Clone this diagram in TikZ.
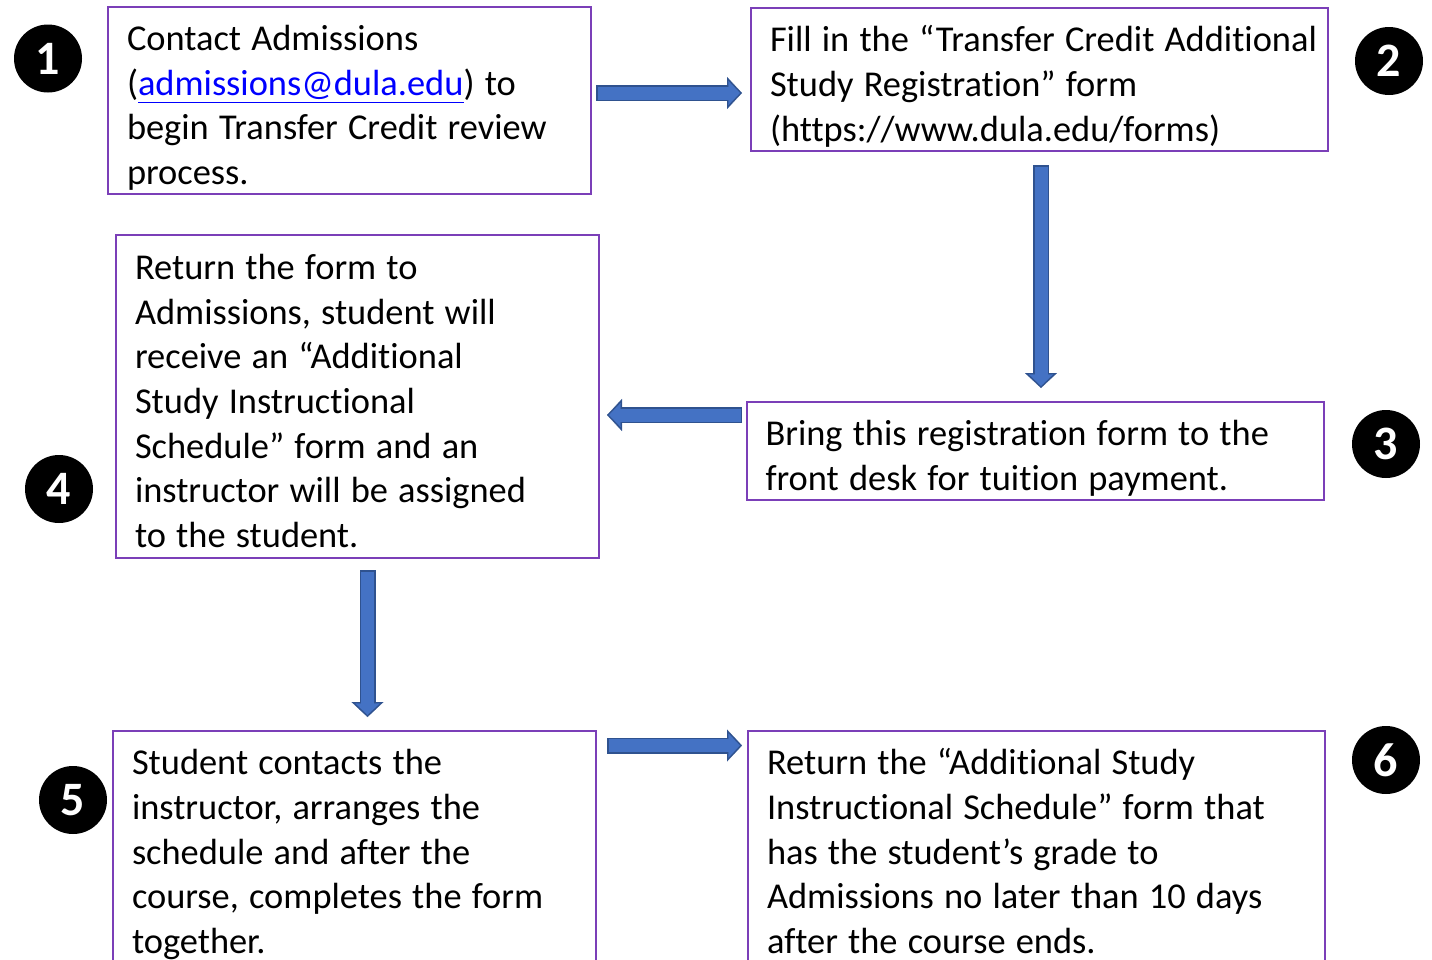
\documentclass[tikz,border=0pt]{standalone}
\usepackage{fontspec}
\setmainfont{Carlito}[Ligatures=NoCommon]
\usetikzlibrary{arrows.meta}
\definecolor{framepurple}{HTML}{7B3FB8}
\definecolor{arrowblue}{HTML}{4472C4}
\definecolor{arrowdark}{HTML}{2F528F}
\definecolor{linkblue}{HTML}{0000FF}

\begin{document}
\begin{tikzpicture}[x=0.5pt, y=-0.5pt,
 stage/.style={draw=framepurple, line width=1pt, align=left, inner xsep=9.5pt, inner ysep=0pt,
   font=\fontsize{18.2pt}{22.3pt}\selectfont,
   execute at begin node={\spaceskip=0.28em\relax\rule{0pt}{22pt}},
   execute at end node={\rule[-5pt]{0pt}{5pt}}},
 leftstage/.style={stage, text width=222.5pt},
 rightstage/.style={stage, text width=269.5pt},
 badge/.style={shape=circle, fill=black, minimum size=34pt, inner sep=0pt, text=white,
   font=\fontsize{24pt}{24pt}\selectfont\bfseries},
 flowedge/.style={draw=arrowdark, line width=8pt, -{Triangle[width=16pt, length=7.5pt, line width=0.1pt]}},
 flowbody/.style={draw=arrowblue, line width=6.5pt, shorten <=0.75pt, shorten >=1.06pt,
   -{Triangle[width=12pt, length=5.7pt, line width=0.1pt]}},
]
\useasboundingbox (0,0) rectangle (1432,960);
\clip (0,0) rectangle (1432,960);

%steps
\node[leftstage, minimum height=93.5pt] (s1) at (349.5,100.5)
 {Contact Admissions\\(\textcolor{linkblue}{\underline{admissions@dula.edu}}) to\\begin Transfer Credit review\\process.};
\node[rightstage, minimum height=71.5pt] (s2) at (1039.5,79.5)
 {\mbox{Fill in the “Transfer Credit Additional}\\Study Registration” form\\(https://www.dula.edu/forms)};
\node[rightstage, minimum height=49pt] (s3) at (1035,451)
 {Bring this registration form to the\\front desk for tuition payment.};
\node[leftstage, minimum height=161.5pt] (s4) at (357.5,396.5)
 {Return the form to\\Admissions, student will\\receive an “Additional\\Study Instructional\\Schedule” form and an\\instructor will be assigned\\to the student.};
\node[leftstage, minimum height=116pt] (s5) at (354.5,847)
 {Student contacts the\\instructor, arranges the\\schedule and after the\\course, completes the form\\together.};
\node[rightstage, minimum height=116pt] (s6) at (1036.5,847)
 {Return the “Additional Study\\Instructional Schedule” form that\\has the student’s grade to\\Admissions no later than 10 days\\after the course ends.};

%numbers
\node[badge] (n1) at (48,58.5) {1};
\node[badge] (n2) at (1389,61) {2};
\node[badge] (n3) at (1386,444) {3};
\node[badge] (n4) at (59,489) {4};
\node[badge] (n5) at (73,800) {5};
\node[badge] (n6) at (1386,760) {6};

%arrows
\coordinate (a1s) at (596,93);
\coordinate (a1t) at (742,93);
\coordinate (a2s) at (1041,165);
\coordinate (a2t) at (1041,388);
\coordinate (a3s) at (742,415);
\coordinate (a3t) at (607,415);
\coordinate (a4s) at (367.5,570);
\coordinate (a4t) at (367.5,717);
\coordinate (a5s) at (607,745.5);
\coordinate (a5t) at (742,745.5);
\foreach \s/\t in {a1s/a1t, a2s/a2t, a3s/a3t, a4s/a4t, a5s/a5t} {
  \draw[flowedge] (\s) -- (\t);
  \draw[flowbody] (\s) -- (\t);
}

\end{tikzpicture}
\end{document}
